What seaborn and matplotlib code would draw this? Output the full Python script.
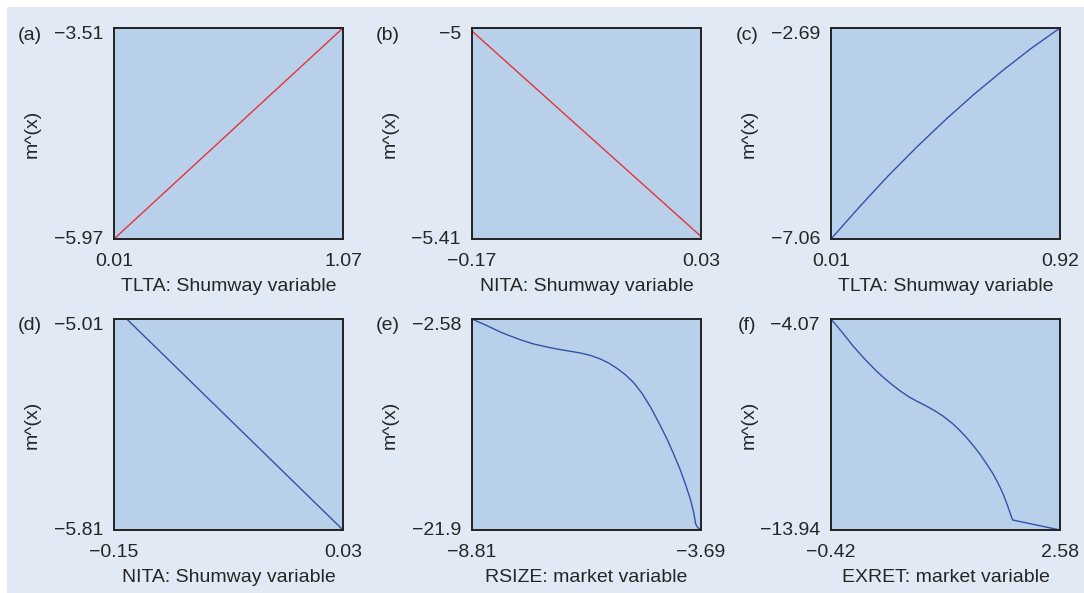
import numpy as np
import pandas as pd
import matplotlib
matplotlib.use("Agg")
import matplotlib.pyplot as plt
import matplotlib.transforms as mtransforms
from matplotlib.patches import Rectangle
import seaborn as sns

# ---------------------------------------------------------------------------
# Data (estimated fitted curves m^(x))
# ---------------------------------------------------------------------------
a_x = [0.01, 1.07]
a_y = [-5.97, -3.51]

b_x = [-0.17, 0.03]
b_y = [-5.006, -5.405]

c_x = [0.01, 0.124, 0.2375, 0.351, 0.465, 0.579, 0.6925, 0.806, 0.92]
c_y = [-7.06, -6.39, -5.75, -5.155, -4.59, -4.06, -3.57, -3.11, -2.69]

d_x = [-0.14, 0.03]
d_y = [-5.01, -5.81]

e_x = [-8.81, -8.475, -8.177, -7.953, -7.692, -7.431, -7.170, -6.910, -6.649,
       -6.388, -6.164, -5.941, -5.754, -5.568, -5.382, -5.195, -5.009, -4.823,
       -4.637, -4.450, -4.301, -4.152, -4.040, -3.929, -3.854, -3.809, -3.765, -3.69]
e_y = [-2.58, -3.19, -3.77, -4.14, -4.53, -4.87, -5.11, -5.33, -5.51,
       -5.69, -5.91, -6.24, -6.61, -7.10, -7.68, -8.41, -9.39, -10.61,
       -12.04, -13.57, -14.94, -16.41, -17.69, -19.06, -20.28, -21.35, -21.66, -21.90]

f_x = [-0.42, -0.267, -0.135, 0.018, 0.171, 0.281, 0.390, 0.500, 0.609, 0.719,
       0.828, 0.938, 1.047, 1.179, 1.266, 1.354, 1.441, 1.529, 1.617, 1.704,
       1.770, 1.836, 1.901, 1.958, 2.58]
f_y = [-4.07, -4.72, -5.32, -5.93, -6.49, -6.85, -7.17, -7.47, -7.73, -7.94,
       -8.14, -8.36, -8.61, -8.98, -9.28, -9.61, -9.98, -10.38, -10.84, -11.32,
       -11.76, -12.26, -12.88, -13.47, -13.94]

panel_tags = ["(a)", "(b)", "(c)", "(d)", "(e)", "(f)"]
x_labels = ["TLTA: Shumway variable", "NITA: Shumway variable", "TLTA: Shumway variable",
            "NITA: Shumway variable", "RSIZE: market variable", "EXRET: market variable"]
x_ticks = [(0.01, 1.07), (-0.17, 0.03), (0.01, 0.92),
           (-0.15, 0.03), (-8.81, -3.69), (-0.42, 2.58)]
y_ticks = [(-5.97, -3.51), (-5.41, -5.0), (-7.06, -2.69),
           (-5.81, -5.01), (-21.9, -2.58), (-13.94, -4.07)]
x_tick_text = [("0.01", "1.07"), ("\u22120.17", "0.03"), ("0.01", "0.92"),
               ("\u22120.15", "0.03"), ("\u22128.81", "\u22123.69"), ("\u22120.42", "2.58")]
y_tick_text = [("\u22125.97", "\u22123.51"), ("\u22125.41", "\u22125"), ("\u22127.06", "\u22122.69"),
               ("\u22125.81", "\u22125.01"), ("\u221221.9", "\u22122.58"), ("\u221213.94", "\u22124.07")]

RED = "#e4343a"
BLUE = "#3452a6"
line_colors = [RED, RED, BLUE, BLUE, BLUE, BLUE]

series = [(a_x, a_y), (b_x, b_y), (c_x, c_y), (d_x, d_y), (e_x, e_y), (f_x, f_y)]

# ---------------------------------------------------------------------------
# Figure
# ---------------------------------------------------------------------------
sns.set_style("white")
plt.rcParams["font.family"] = ["Liberation Sans", "DejaVu Sans"]
FS = 14
TXT = "#262626"

W, H = 1084, 593
fig = plt.figure(figsize=(W / 100, H / 100), dpi=100, facecolor="white")
fig.patches.append(Rectangle((7 / W, 0), 1 - 7 / W, 586 / H, transform=fig.transFigure,
                             facecolor="#e1e9f5", edgecolor="none", zorder=-10))

lefts = [114, 472, 831]
tops = [28, 319]
aw, ah = 229, 211

for i, (xs, ys) in enumerate(series):
    row, col = divmod(i, 3)
    l = lefts[col]
    t = tops[row]
    ax = fig.add_axes([l / W, (H - t - ah) / H, aw / W, ah / H])
    ax.set_facecolor("#b9d0eb")

    df = pd.DataFrame({"x": xs, "y": ys})
    sns.lineplot(data=df, x="x", y="y", ax=ax, color=line_colors[i], linewidth=1.0,
                 sort=False, estimator=None)

    ax.set_xlim(*x_ticks[i])
    ax.set_ylim(*y_ticks[i])
    ax.set_xticks(list(x_ticks[i]))
    ax.set_xticklabels(list(x_tick_text[i]))
    ax.set_yticks(list(y_ticks[i]))
    ax.set_yticklabels(list(y_tick_text[i]))
    ax.tick_params(axis="both", length=0, labelsize=FS, colors=TXT)
    ax.tick_params(axis="x", pad=10)
    ax.tick_params(axis="y", pad=8)

    # small vertical nudges of the y tick labels, as in the reference
    top_lab = ax.get_yticklabels()[1]
    top_lab.set_transform(top_lab.get_transform() +
                          mtransforms.ScaledTranslation(0, -3 / 72, fig.dpi_scale_trans))
    bot_lab = ax.get_yticklabels()[0]
    bot_lab.set_transform(bot_lab.get_transform() +
                          mtransforms.ScaledTranslation(0, 1 / 72, fig.dpi_scale_trans))

    ax.set_xlabel(x_labels[i], fontsize=FS, color=TXT, labelpad=6)
    ax.set_ylabel("m^(x)", fontsize=FS, color=TXT)
    ax.yaxis.set_label_coords(-73 / aw, 0.5)

    for sp in ax.spines.values():
        sp.set_visible(True)
        sp.set_color("#222222")
        sp.set_linewidth(1.4)

    fig.text((l - 84) / W, 1 - (t + 7) / H, panel_tags[i], fontsize=FS,
             color=TXT, ha="center", va="center")

fig.savefig("out.png", dpi=100, facecolor="white")
